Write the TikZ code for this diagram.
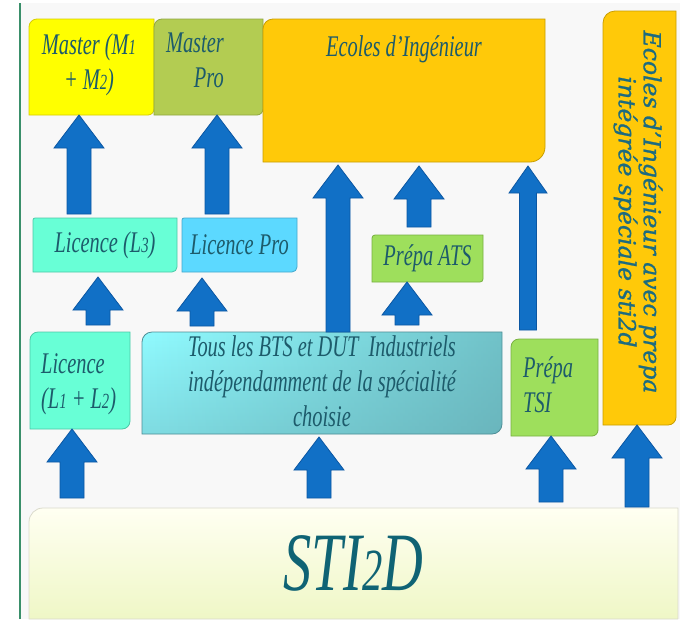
\documentclass[tikz,border=0pt]{standalone}
\usepackage{fontspec}
\setmainfont{Liberation Serif}[FakeStretch=0.68]
\newfontfamily\vertfont{DejaVu Serif}[FakeBold=1]
\usetikzlibrary{positioning,calc,fadings}

\definecolor{bgGray}{HTML}{F8F8F8}
\definecolor{edgeGreen}{HTML}{3A8F6A}
\definecolor{yellowA}{HTML}{FFFF00}
\definecolor{yellowD}{HTML}{D6CC00}
\definecolor{oliveA}{HTML}{B3CC52}
\definecolor{oliveD}{HTML}{8FA640}
\definecolor{orangeA}{HTML}{FFC909}
\definecolor{orangeD}{HTML}{C99E00}
\definecolor{aquaA}{HTML}{68FFD6}
\definecolor{aquaD}{HTML}{4CC9A8}
\definecolor{skyA}{HTML}{5CD9FF}
\definecolor{skyD}{HTML}{45A8CC}
\definecolor{greenA}{HTML}{9EDF5C}
\definecolor{greenD}{HTML}{78B040}
\definecolor{btsA}{HTML}{90FBFF}
\definecolor{btsM}{HTML}{7FDCE2}
\definecolor{btsB}{HTML}{5C9CA4}
\definecolor{btsD}{HTML}{4F8E96}
\definecolor{stiA}{HTML}{FFFFF2}
\definecolor{stiB}{HTML}{EFF7C6}
\definecolor{stiD}{HTML}{DADACB}
\definecolor{arrowBlue}{HTML}{1170C6}
\definecolor{arrowEdge}{HTML}{0B57A3}
\definecolor{txtTeal}{HTML}{1D5B6B}
\definecolor{stiTeal}{HTML}{0F6374}
\definecolor{vertTeal}{HTML}{1C6B80}

\tikzfading[name=toRight, left color=transparent!100, right color=transparent!0]

% small digits
\newcommand\osn[1]{\scalebox{0.72}{#1}}
% arrow sizes
\newcommand\shaftw{12pt}
\newcommand\headw{25pt}
\newcommand\headl{33pt}
% box with round top left and bottom right corners
\newcommand\panel[4]{%
  \path[#4] ([yshift=-#2]#1.north west) arc[start angle=180, end angle=90, radius=#2]
    -- (#1.north east) -- ([yshift=#3]#1.south east)
    arc[start angle=0, end angle=-90, radius=#3] -- (#1.south west) -- cycle;}

\begin{document}
\begin{tikzpicture}[x=1pt, y=1pt,
    box/.style={anchor=north west, inner sep=0pt, outer sep=0pt},
    boxtext/.style={inner sep=0pt, text=txtTeal, font=\fontsize{30}{35}\selectfont\itshape},
    uparrow/.style={fill=arrowBlue, draw=arrowEdge, line width=0.8pt,
      to path={let \p1=(\tikztostart), \p2=(\tikztotarget) in
        (\x1-\shaftw,\y1) -- (\x1-\shaftw,\y2-\headl) -- (\x1-\headw,\y2-\headl)
        -- (\x1,\y2) -- (\x1+\headw,\y2-\headl) -- (\x1+\shaftw,\y2-\headl)
        -- (\x1+\shaftw,\y1) -- cycle}},
    thin arrow/.style={uparrow, /utils/exec={\def\shaftw{8.5pt}\def\headw{19pt}\def\headl{27pt}}}]

\useasboundingbox (0,-619) rectangle (680,0);
\fill[bgGray] (20,-619) rectangle (680,-3);
\draw[edgeGreen, line width=1.2pt] (20,-619) -- (20,-3);

% top row
\node[box, minimum width=125pt, minimum height=96pt] (masterA) at (29,-19) {};
\panel{masterA}{8pt}{6pt}{fill=yellowA, draw=yellowD, line width=0.8pt}
\node[boxtext, align=center, anchor=north] (masterAtxt) at (89,-33) {Master (M\osn{1}\\+ M\osn{2})};

\node[box, right=0pt of masterA, minimum width=109pt, minimum height=96pt] (masterB) {};
\panel{masterB}{8pt}{6pt}{fill=oliveA, draw=oliveD, line width=0.8pt}
\node[boxtext, align=right, anchor=north east] (masterBtxt) at (224,-33) {Master\\Pro};

\node[box, minimum width=282pt, minimum height=143pt] (ecoles) at (masterB.north east) {};
\panel{ecoles}{10pt}{15pt}{fill=orangeA, draw=orangeD, line width=0.8pt}
\node[boxtext, anchor=north] (ecolesTxt) at ([yshift=-16pt]ecoles.north) {Ecoles d’Ingénieur};

\node[box, minimum width=73pt, minimum height=414pt] (vert) at (603,-11) {};
\panel{vert}{12pt}{8pt}{fill=orangeA, draw=orangeD, line width=0.8pt}
\node[rotate=-90, align=center, inner sep=0pt, text=vertTeal,
  font=\vertfont\fontsize{23.5}{22}\selectfont\itshape] (vertTxt) at (638,-212)
  {Ecoles d’Ingénieur avec prepa\\intégrée spéciale sti2d};

% middle row
\node[box, minimum width=144pt, minimum height=54pt] (licL3) at (33,-218) {};
\panel{licL3}{2pt}{5pt}{fill=aquaA, draw=aquaD, line width=0.8pt}
\node[boxtext] (licL3txt) at (licL3.center) {Licence (L\osn{3})};

\node[box, right=5pt of licL3, minimum width=115pt, minimum height=54pt] (licPro) {};
\panel{licPro}{2pt}{5pt}{fill=skyA, draw=skyD, line width=0.8pt}
\node[boxtext] (licProTxt) at (licPro.center) {Licence Pro};

\node[box, minimum width=111pt, minimum height=47pt] (ats) at (372,-235) {};
\panel{ats}{3pt}{3pt}{fill=greenA, draw=greenD, line width=0.8pt}
\node[boxtext] (atsTxt) at (ats.center) {Prépa ATS};

% lower row
\node[box, minimum width=100pt, minimum height=97pt] (l12) at (30,-332) {};
\panel{l12}{8pt}{8pt}{fill=aquaA, draw=aquaD, line width=0.8pt}
\node[boxtext, align=left, anchor=north west] (l12Txt) at (41,-353) {Licence\\(L\osn{1} + L\osn{2})};

\node[box, minimum width=360pt, minimum height=102pt] (bts) at (142,-332) {};
\panel{bts}{10pt}{10pt}{top color=btsA, bottom color=btsM}
\panel{bts}{10pt}{10pt}{fill=btsB, path fading=toRight, fill opacity=0.6}
\panel{bts}{10pt}{10pt}{draw=btsD, line width=0.8pt}
\node[boxtext, align=center, anchor=north] (btsTxt) at (322,-335)
  {Tous les BTS et DUT\ \ Industriels\\indépendamment de la spécialité\\choisie};

\node[box, minimum width=87pt, minimum height=97pt] (tsi) at (511,-339) {};
\panel{tsi}{8pt}{6pt}{fill=greenA, draw=greenD, line width=0.8pt}
\node[boxtext, align=left, anchor=north west] (tsiTxt) at (523,-356) {Prépa\\TSI};

% base
\node[box, minimum width=649pt, minimum height=111pt] (sti2d) at (29,-508) {};
\panel{sti2d}{14pt}{0.1pt}{top color=stiA, bottom color=stiB, draw=stiD, line width=0.8pt}
\node[inner sep=0pt, text=stiTeal, font=\fontsize{83}{83}\selectfont\itshape] (sti2dTxt) at (sti2d.center) {STI\osn{2}D};

% arrows
\draw[uparrow] ([shift={(-26,4)}]licL3.north) to (masterA.south);
\draw[uparrow] ([shift={(-22.5,4)}]licPro.north) to (masterB.south);
\draw[uparrow] ([xshift=16pt]bts.north) to ([yshift=-3pt]ecoles.south);
\draw[uparrow] ([shift={(-8.5,8)}]ats.north) to ([yshift=-4pt]ecoles.south);
\draw[uparrow] ([shift={(85,7)}]bts.north) to (ats.south);
\draw[thin arrow] ([shift={(-26.5,9)}]tsi.north) to ([yshift=-4pt]ecoles.south);
\draw[uparrow] ([shift={(18,7)}]l12.north) to ([yshift=-5pt]licL3.south);
\draw[uparrow] ([shift={(-120,6)}]bts.north) to ([yshift=-6pt]licPro.south);
\draw[uparrow] ([shift={(43,10)}]sti2d.north west) to (l12.south);
\draw[uparrow] ([shift={(290,10)}]sti2d.north west) to ([yshift=-3pt]bts.south);
\draw[uparrow] ([shift={(522,6)}]sti2d.north west) to (tsi.south);
\draw[uparrow] ([shift={(608,1)}]sti2d.north west) to (vert.south);

\end{tikzpicture}
\end{document}
